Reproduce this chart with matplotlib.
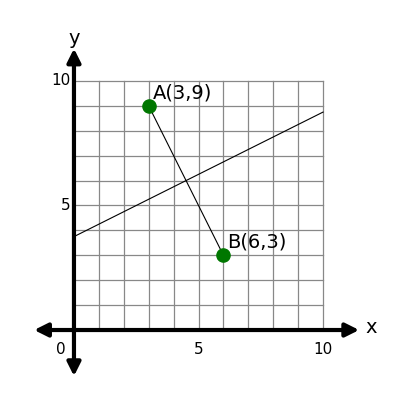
import matplotlib
matplotlib.use("Agg")
import matplotlib.pyplot as plt
import numpy as np

pts_x = [3, 6]
pts_y = [9, 3]
pt_labels = ["A(3,9)", "B(6,3)"]
line_x = [0, 10]
line_y = [3.75, 8.75]
ticks = [5, 10]

fig = plt.figure(figsize=(4, 4), dpi=100)
ax = fig.add_axes([0, 0, 1, 1])
ax.set_xlim(-2.97, 13.09)
ax.set_ylim(-2.81, 13.25)
ax.axis("off")

for v in range(0, 11):
    ax.plot([v, v], [0, 10], color="#888888", lw=0.9, zorder=1)
    ax.plot([0, 10], [v, v], color="#888888", lw=0.9, zorder=1)

ax.annotate("", xy=(11.45, 0), xytext=(-1.6, 0),
            arrowprops=dict(arrowstyle="<|-|>", color="black", lw=3, mutation_scale=20, shrinkA=0, shrinkB=0), zorder=3)
ax.annotate("", xy=(0, 11.3), xytext=(0, -1.85),
            arrowprops=dict(arrowstyle="<|-|>", color="black", lw=3, mutation_scale=20, shrinkA=0, shrinkB=0), zorder=3)

ax.plot(line_x, line_y, color="black", lw=0.8, zorder=2)
ax.plot(pts_x, pts_y, color="black", lw=0.8, zorder=2)
ax.scatter(pts_x, pts_y, s=90, color="#007700", zorder=4)
for x, y, t in zip(pts_x, pts_y, pt_labels):
    ax.text(x + 0.15, y + 0.15, t, fontsize=14, ha="left", va="bottom", zorder=5)

for t in ticks:
    ax.text(t, -0.5, str(t), fontsize=11, ha="center", va="top")
    ax.text(-0.15, t, str(t), fontsize=11, ha="right", va="center")
ax.text(-0.35, -0.5, "0", fontsize=11, ha="right", va="top")
ax.text(11.7, 0.1, "x", fontsize=14, ha="left", va="center")
ax.text(0, 11.7, "y", fontsize=14, ha="center", va="center")

fig.savefig("out.png", dpi=100)
